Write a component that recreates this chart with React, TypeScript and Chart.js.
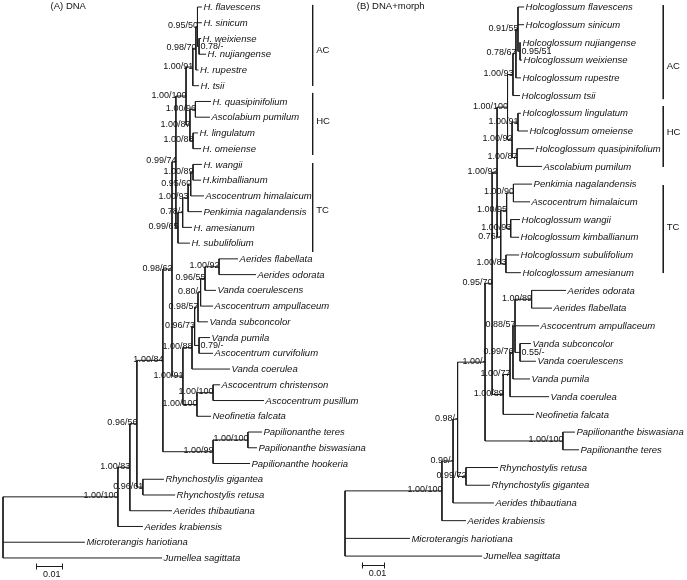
import React, { useEffect, useRef } from "react";
import { Chart, registerables } from "chart.js";

Chart.register(...registerables);

// ---------- Panel A: DNA ----------
const A_TAXA = [
  "H. flavescens", "H. sinicum", "H. weixiense", "H. nujiangense", "H. rupestre", "H. tsii",
  "H. quasipinifolium", "Ascolabium pumilum", "H. lingulatum", "H. omeiense",
  "H. wangii", "H.kimballianum", "Ascocentrum himalaicum", "Penkimia nagalandensis", "H. amesianum", "H. subulifolium",
  "Aerides flabellata", "Aerides odorata", "Vanda coerulescens", "Ascocentrum ampullaceum", "Vanda subconcolor",
  "Vanda pumila", "Ascocentrum curvifolium", "Vanda coerulea", "Ascocentrum christenson", "Ascocentrum pusillum",
  "Neofinetia falcata", "Papilionanthe teres", "Papilionanthe biswasiana", "Papilionanthe hookeria",
  "Rhynchostylis gigantea", "Rhynchostylis retusa", "Aerides thibautiana", "Aerides krabiensis",
  "Microterangis hariotiana", "Jumellea sagittata",
];
// distance of each tip from the root (substitutions / site)
const A_TIP_DEPTH = [
  0.0765, 0.0765, 0.0762, 0.0781, 0.0752, 0.0754,
  0.0800, 0.0796, 0.0750, 0.0762,
  0.0765, 0.0762, 0.0773, 0.0765, 0.0727, 0.0719,
  0.0904, 0.0973, 0.0819, 0.0808, 0.0788,
  0.0796, 0.0808, 0.0873, 0.0835, 0.1004,
  0.0800, 0.0996, 0.0977, 0.0950,
  0.0619, 0.0662, 0.0650, 0.0538,
  0.0315, 0.0612,
];
// internal nodes: children (tip index, or 100 + node index)
const A_NODE_KIDS = [
  [101, 34, 35], [102, 33], [103, 32], [104, 105], [106, 107], [30, 31], [108, 109], [110, 29],
  [111, 112], [113, 114], [27, 28], [115, 116], [117, 15], [118, 23], [119, 26], [120, 5],
  [121, 122], [123, 14], [124, 125], [24, 25], [126, 4], [6, 7], [8, 9], [127, 13],
  [128, 20], [21, 22], [0, 1, 129], [130, 12], [131, 19], [2, 3], [10, 11], [132, 18], [16, 17],
];
const A_NODE_DEPTH = [
  0, 0.0442, 0.0488, 0.0515, 0.0615, 0.0538, 0.0650, 0.0808,
  0.0665, 0.0692, 0.0942, 0.0704, 0.0673, 0.0727, 0.0746, 0.0730,
  0.0719, 0.0691, 0.0737, 0.0808, 0.0742, 0.0740, 0.0731, 0.0712,
  0.0750, 0.0754, 0.0748, 0.0722, 0.0760, 0.0754, 0.0731, 0.0777, 0.0831,
];
const A_SUPPORT = [
  "", "1.00/100", "1.00/83", "0.96/56", "1.00/84", "0.96/61", "0.98/62", "1.00/99",
  "0.99/74", "1.00/91", "1.00/100", "1.00/100", "0.99/65", "1.00/88", "1.00/100", "1.00/91",
  "1.00/87", "0.78/-", "0.96/73", "1.00/100", "0.98/70", "1.00/96", "1.00/88", "1.00/93",
  "0.98/57", "0.79/-", "0.95/50", "0.95/60", "0.80/-", "0.78/-", "1.00/89", "0.96/55", "1.00/92",
];
const A_SUPPORT_RIGHT = [25, 29];
const A_CLADES = ["AC", "HC", "TC"];
const A_CLADE_FROM = [-0.13, 5.46, 9.91];
const A_CLADE_TO = [5.02, 9.4, 15.56];
const A_CLADE_LABEL_AT = [2.78, 7.29, 12.89];

// ---------- Panel B: DNA+morph ----------
const B_TAXA = [
  "Holcoglossum flavescens", "Holcoglossum sinicum", "Holcoglossum nujiangense", "Holcoglossum weixiense",
  "Holcoglossum rupestre", "Holcoglossum tsii", "Holcoglossum lingulatum", "Holcoglossum omeiense",
  "Holcoglossum quasipinifolium", "Ascolabium pumilum", "Penkimia nagalandensis", "Ascocentrum himalaicum",
  "Holcoglossum wangii", "Holcoglossum kimballianum", "Holcoglossum subulifolium", "Holcoglossum amesianum",
  "Aerides odorata", "Aerides flabellata", "Ascocentrum ampullaceum", "Vanda subconcolor", "Vanda coerulescens",
  "Vanda pumila", "Vanda coerulea", "Neofinetia falcata", "Papilionanthe biswasiana", "Papilionanthe teres",
  "Rhynchostylis retusa", "Rhynchostylis gigantea", "Aerides thibautiana", "Aerides krabiensis",
  "Microterangis hariotiana", "Jumellea sagittata",
];
const B_TIP_DEPTH = [
  0.0789, 0.0789, 0.0775, 0.0780, 0.0775, 0.0771, 0.0775, 0.0806,
  0.0833, 0.0868, 0.0824, 0.0815, 0.0771, 0.0767, 0.0767, 0.0775,
  0.0974, 0.0912, 0.0855, 0.0819, 0.0841, 0.0815, 0.0899, 0.0833,
  0.1013, 0.1031, 0.0674, 0.0639, 0.0656, 0.0533, 0.0286, 0.0604,
];
const B_NODE_KIDS = [
  [101, 30, 31], [102, 29], [103, 28], [104, 105], [106, 107], [26, 27], [108, 109], [24, 25],
  [110, 111], [112, 23], [113, 114], [115, 116], [117, 22], [118, 5], [119, 120], [121, 122],
  [14, 15], [123, 21], [124, 4], [6, 7], [8, 9], [10, 11], [12, 13], [125, 18, 126],
  [0, 1, 127], [16, 17], [19, 20], [2, 3],
];
const B_NODE_DEPTH = [
  0, 0.0427, 0.0476, 0.0496, 0.0617, 0.0533, 0.0648, 0.0960,
  0.0670, 0.0697, 0.0716, 0.0686, 0.0727, 0.0740, 0.0736, 0.0712,
  0.0709, 0.0740, 0.0753, 0.0762, 0.0758, 0.0742, 0.0730, 0.0749,
  0.0762, 0.0822, 0.0771, 0.0771,
];
const B_SUPPORT = [
  "", "1.00/100", "0.99/-", "0.98/-", "1.00/-", "0.99/72", "0.95/70", "1.00/100",
  "1.00/92", "1.00/89", "1.00/100", "0.76/-", "1.00/77", "1.00/93", "1.00/92", "1.00/95",
  "1.00/83", "0.99/76", "0.78/67", "1.00/91", "1.00/87", "1.00/90", "1.00/93", "0.88/57",
  "0.91/55", "1.00/89", "0.55/-", "0.95/51",
];
const B_SUPPORT_RIGHT = [26, 27];
const B_CLADES = ["AC", "HC", "TC"];
const B_CLADE_FROM = [-0.11, 5.59, 10.05];
const B_CLADE_TO = [5.2, 9.03, 15.02];
const B_CLADE_LABEL_AT = [3.33, 7.1, 12.42];

const SCALE_BAR_LENGTH = 0.01;

// ---------- layout (annotation placement, in data units) ----------
const PANELS = [
  {
    key: "a", title: "(A) DNA", titleAt: [0.0183, -0.02],
    taxa: A_TAXA, tip: A_TIP_DEPTH, kids: A_NODE_KIDS, depth: A_NODE_DEPTH,
    support: A_SUPPORT, right: A_SUPPORT_RIGHT,
    clades: A_CLADES, cFrom: A_CLADE_FROM, cTo: A_CLADE_TO, cAt: A_CLADE_LABEL_AT, cladeX: 0.1191,
    barAt: [0.0127, 35.51],
    xRange: [-3 / 2600, 684 / 2600], yRange: [-0.445, 36.4],
  },
  {
    key: "b", title: "(B) DNA+morph", titleAt: [0.0052, -0.017],
    taxa: B_TAXA, tip: B_TIP_DEPTH, kids: B_NODE_KIDS, depth: B_NODE_DEPTH,
    support: B_SUPPORT, right: B_SUPPORT_RIGHT,
    clades: B_CLADES, cFrom: B_CLADE_FROM, cTo: B_CLADE_TO, cAt: B_CLADE_LABEL_AT, cladeX: 0.1402,
    barAt: [0.0074, 31.5],
    xRange: [-345 / 2270, 342 / 2270], yRange: [-0.395, 32.35],
  },
];

type Panel = (typeof PANELS)[number];

function layoutTree(p: Panel) {
  const nodeY: number[] = [];
  const yOf = (id: number): number => {
    if (id < 100) return id;
    const k = id - 100;
    if (nodeY[k] === undefined) {
      const ch = p.kids[k];
      nodeY[k] = (yOf(ch[0]) + yOf(ch[ch.length - 1])) / 2;
    }
    return nodeY[k];
  };
  const xOf = (id: number) => (id < 100 ? p.tip[id] : p.depth[id - 100]);
  const gap = { x: NaN, y: NaN };
  const pts: { x: number; y: number }[] = [];
  p.kids.forEach((ch, k) => {
    const nx = p.depth[k];
    pts.push({ x: nx, y: yOf(ch[0]) }, { x: nx, y: yOf(ch[ch.length - 1]) }, gap);
    ch.forEach((c) => {
      pts.push({ x: nx, y: yOf(c) }, { x: xOf(c), y: yOf(c) }, gap);
    });
  });
  p.kids.forEach((_, k) => yOf(100 + k));
  const brackets: { x: number; y: number }[] = [];
  p.clades.forEach((_, i) => {
    brackets.push({ x: p.cladeX, y: p.cFrom[i] }, { x: p.cladeX, y: p.cTo[i] }, gap);
  });
  return { pts, nodeY, brackets };
}

const FONT = '"Liberation Sans", Arial, Helvetica, sans-serif';
const INK = "#111";
const LINE = "#1c1c1c";

export default function App() {
  const ref = useRef<HTMLCanvasElement | null>(null);

  useEffect(() => {
    if (!ref.current) return;
    const layouts = PANELS.map(layoutTree);
    const datasets: any[] = [];
    PANELS.forEach((p, i) => {
      const common = {
        xAxisID: "x" + p.key,
        yAxisID: "y" + p.key,
        borderColor: LINE,
        borderWidth: 1,
        pointRadius: 0,
        spanGaps: false,
        fill: false,
        tension: 0,
      };
      datasets.push({ ...common, data: layouts[i].pts });
      datasets.push({ ...common, data: layouts[i].brackets });
    });

    const scales: any = {};
    PANELS.forEach((p) => {
      scales["x" + p.key] = {
        type: "linear", axis: "x", display: false, bounds: "data",
        min: p.xRange[0], max: p.xRange[1],
      };
      scales["y" + p.key] = {
        type: "linear", axis: "y", display: false, bounds: "data", reverse: true,
        min: p.yRange[0], max: p.yRange[1],
      };
    });

    const textPlugin = {
      id: "treeText",
      afterDatasetsDraw(chart: any) {
        const ctx: CanvasRenderingContext2D = chart.ctx;
        PANELS.forEach((p, pi) => {
          const xs = chart.scales["x" + p.key];
          const ys = chart.scales["y" + p.key];
          const X = (v: number) => xs.getPixelForValue(v);
          const Y = (v: number) => ys.getPixelForValue(v);
          const { nodeY } = layouts[pi];
          ctx.save();
          ctx.fillStyle = INK;
          // taxa
          ctx.font = `italic 9.5px ${FONT}`;
          ctx.textAlign = "left";
          ctx.textBaseline = "middle";
          p.taxa.forEach((name, i) => ctx.fillText(name, X(p.tip[i]) + 1.5, Y(i) + 0.5));
          // support values
          ctx.font = `9px ${FONT}`;
          p.support.forEach((s, k) => {
            if (!s) return;
            const x = X(p.depth[k]);
            const y = Y(nodeY[k]);
            if (p.right.includes(k)) {
              ctx.textAlign = "left";
              ctx.textBaseline = "middle";
              ctx.fillText(s, x + 1.5, y + 0.5);
            } else {
              ctx.textAlign = "right";
              ctx.textBaseline = "alphabetic";
              ctx.fillText(s, x + 0.5, y + 1.5);
            }
          });
          // clade labels
          ctx.font = `9.5px ${FONT}`;
          ctx.textAlign = "left";
          ctx.textBaseline = "middle";
          p.clades.forEach((c, i) => ctx.fillText(c, X(p.cladeX) + 3.5, Y(p.cAt[i])));
          // title
          ctx.fillText(p.title, X(p.titleAt[0]), Y(p.titleAt[1]));
          // scale bar
          const bx0 = X(p.barAt[0]);
          const bx1 = X(p.barAt[0] + SCALE_BAR_LENGTH);
          const by = Math.round(Y(p.barAt[1])) + 0.5;
          ctx.strokeStyle = LINE;
          ctx.lineWidth = 1;
          ctx.beginPath();
          ctx.moveTo(bx0, by);
          ctx.lineTo(bx1, by);
          ctx.moveTo(Math.round(bx0) + 0.5, by - 3);
          ctx.lineTo(Math.round(bx0) + 0.5, by + 3);
          ctx.moveTo(Math.round(bx1) + 0.5, by - 3);
          ctx.lineTo(Math.round(bx1) + 0.5, by + 3);
          ctx.stroke();
          ctx.font = `9px ${FONT}`;
          ctx.textAlign = "left";
          ctx.textBaseline = "top";
          ctx.fillText(String(SCALE_BAR_LENGTH), bx0 + 7, by + 4);
          ctx.restore();
        });
      },
    };

    const chart = new Chart(ref.current, {
      type: "line",
      data: { datasets },
      options: {
        animation: false,
        responsive: false,
        maintainAspectRatio: false,
        events: [],
        layout: { padding: 0 },
        plugins: {
          legend: { display: false },
          tooltip: { enabled: false },
          title: { display: false },
        },
        scales,
      } as any,
      plugins: [textPlugin],
    });
    return () => chart.destroy();
  }, []);

  return (
    <div style={{ position: "absolute", left: 0, top: 0, width: 687, height: 580, background: "#fff" }}>
      <canvas ref={ref} width={687} height={580} style={{ display: "block" }} />
    </div>
  );
}
